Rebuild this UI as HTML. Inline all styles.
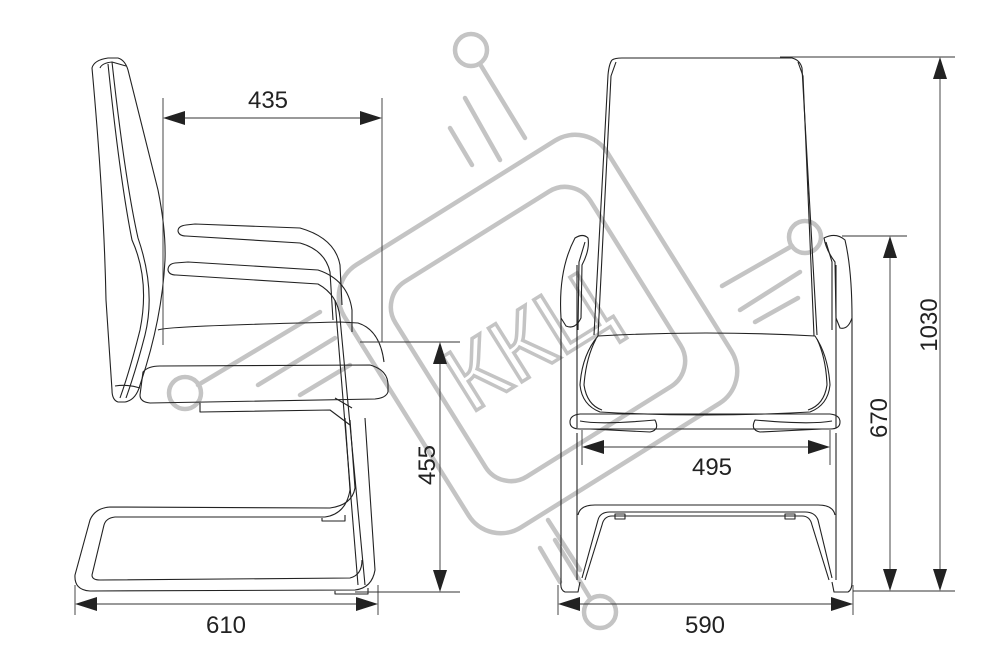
<!DOCTYPE html>
<html><head><meta charset="utf-8"><style>
html,body{margin:0;padding:0;background:#fff}
svg{display:block}
text{font-family:"Liberation Sans",Arial,sans-serif}
</style></head><body>
<svg width="1000" height="670" viewBox="0 0 1000 670" xmlns="http://www.w3.org/2000/svg">
<rect width="1000" height="670" fill="#fff"/>
<!-- watermark -->
<g fill="none" stroke="#c4c4c4" stroke-width="4.5" stroke-linecap="round">
  <rect x="383" y="179" width="310" height="310" rx="38" transform="rotate(-32 538 334)"/>
  <rect x="423" y="219" width="230" height="230" rx="30" transform="rotate(-32 538 334)"/>
  <circle cx="471" cy="50" r="16"/>
  <line x1="480" y1="64" x2="525" y2="138"/>
  <line x1="465" y1="98" x2="500" y2="160"/>
  <line x1="450" y1="128" x2="472" y2="165"/>
  <circle cx="185" cy="393" r="16"/>
  <line x1="198" y1="385" x2="320" y2="312"/>
  <line x1="258" y1="385" x2="335" y2="338"/>
  <line x1="300" y1="395" x2="350" y2="365"/>
  <circle cx="805" cy="237" r="16"/>
  <line x1="792" y1="246" x2="722" y2="286"/>
  <line x1="800" y1="272" x2="740" y2="310"/>
  <line x1="798" y1="298" x2="755" y2="322"/>
  <circle cx="600" cy="612" r="16"/>
  <line x1="590" y1="598" x2="555" y2="540"/>
  <line x1="580" y1="570" x2="548" y2="520"/>
  <line x1="560" y1="582" x2="540" y2="548"/>
</g>
<text x="530" y="372" font-size="92" fill="#fff" stroke="#c4c4c4" stroke-width="3.5" text-anchor="middle" transform="rotate(-32 530 345)" font-family="Liberation Sans, DejaVu Sans, sans-serif">ККЦ</text>

<g fill="none" stroke="#222" stroke-width="1.1" stroke-linejoin="round">
<!-- SIDE VIEW backrest -->
<path d="M92,68 Q94,60 108,58 L118,58 Q125,60 128,70 L158,190 Q166,230 165,260 Q162,320 140,385 Q136,400 125,402 L118,402 Q112,400 112,390 L106,300 Q104,200 92,68 Z"/>
<path d="M100,68 Q102,63 112,62 L126,66"/>
<path d="M108,64 Q120,180 132,240 Q150,280 140,330 Q130,370 120,398"/>
<path d="M112,62 Q125,180 138,238 Q156,290 145,335 Q136,370 126,398"/>
<path d="M115,386 Q128,384 140,388"/>
<!-- seat -->
<path d="M158,330 Q165,326 340,322 L358,323 Q380,330 384,362"/>
<path d="M143,372 Q148,366 160,366 L370,365 Q388,370 388,385 L388,392 Q386,398 375,399 L150,403 Q140,402 140,395 Z"/>
<path d="M200,403 L200,412 L330,410 L350,425"/>
<path d="M335,398 L352,408"/>
<!-- armrests -->
<path d="M186,225 Q178,226 178,231 Q179,236 186,236 L300,243 Q325,250 330,272 L333,320"/>
<path d="M186,225 L195,224 L300,228 Q335,238 340,265 L342,305"/>
<path d="M175,263 Q168,264 168,270 Q169,275 176,275 L318,284 Q338,295 340,318 L365,585"/>
<path d="M175,263 L188,262 L318,270 Q348,280 352,310 L352,332"/>
<path d="M335,300 L358,585"/>
<!-- base -->
<path d="M350,420 L355,488 Q352,505 330,508 L110,507 Q95,508 90,520 L75,575 Q74,590 90,591 L355,590 Q372,588 375,570 L365,418"/>
<path d="M345,418 L350,490 Q346,514 325,517 L115,517 Q106,518 104,525 L92,575 Q92,580 100,580 L350,578 Q362,575 362,560"/>
<path d="M322,518 L322,521 L345,521 L345,515"/>
<path d="M335,591 L335,594 L368,594 L368,588"/>

<!-- FRONT VIEW backrest -->
<path d="M612,60 Q615,58 622,58 L792,58 Q800,60 802,68 L817,335"/>
<path d="M612,60 Q609,64 608,75 L594,335"/>
<path d="M616,62 L611,76 L598,336"/>
<path d="M798,62 L803,76 L814,336"/>
<!-- seat -->
<path d="M598,336 Q705,330 815,336 Q828,355 830,385 Q828,405 810,412 Q705,418 600,412 Q582,405 580,385 Q582,355 598,336 Z"/>
<path d="M596,339 Q586,358 584,385 Q587,405 602,410"/>
<path d="M817,339 Q826,358 827,385 Q824,405 808,410"/>
<path d="M580,414 L830,414 Q840,415 840,422 Q840,429 830,429 L580,429 Q570,429 570,422 Q570,415 580,414"/>
<path d="M580,421 Q600,425 655,420 Q660,430 650,432 L590,429"/>
<path d="M832,421 Q810,425 755,420 Q750,430 760,432 L822,429"/>
<!-- armrests -->
<path d="M575,238 Q583,233 588,238 Q590,250 582,265 L581,318 Q575,330 566,326 L561,318 Q558,270 575,238 Z"/>
<path d="M585,242 L579,262 L578,330"/>
<path d="M824,238 Q836,232 845,240 Q852,270 852,318 Q848,330 840,328 L836,318 L835,262 Q826,250 824,238 Z"/>
<path d="M826,242 L832,262 L832,330"/>
<!-- legs -->
<path d="M577,265 L577,428 M577,433 L577,580"/>
<path d="M836,265 L836,428 M836,433 L836,580"/>
<path d="M561,318 L561,582 Q560,590 565,592 L578,592 L580,582"/>
<path d="M852,318 L852,582 Q852,590 848,592 L834,592 L832,582"/>
<path d="M578,515 Q580,505 595,505 L818,505 Q833,505 835,515"/>
<path d="M582,578 L598,520 Q600,512 610,512 L805,512 Q815,512 818,520 L832,578"/>
<path d="M585,580 L602,525 Q604,516 612,516 L802,516 Q810,516 812,525 L829,580"/>
<rect x="615" y="514" width="10" height="5"/>
<rect x="785" y="514" width="10" height="5"/>
</g>

<!-- dimension lines -->
<g stroke="#333" stroke-width="0.9" fill="none">
  <line x1="163" y1="98" x2="163" y2="345"/>
  <line x1="382" y1="98" x2="382" y2="342"/>
  <line x1="170" y1="118" x2="375" y2="118"/>
  <line x1="360" y1="342" x2="460" y2="342"/>
  <line x1="355" y1="592" x2="460" y2="592"/>
  <line x1="440" y1="350" x2="440" y2="585"/>
  <line x1="75" y1="585" x2="75" y2="615"/>
  <line x1="378" y1="585" x2="378" y2="615"/>
  <line x1="82" y1="604" x2="370" y2="604"/>
  <line x1="558" y1="585" x2="558" y2="615"/>
  <line x1="853" y1="585" x2="853" y2="615"/>
  <line x1="565" y1="604" x2="846" y2="604"/>
  <line x1="582" y1="430" x2="582" y2="465"/>
  <line x1="830" y1="430" x2="830" y2="465"/>
  <line x1="590" y1="447" x2="822" y2="447"/>
  <line x1="780" y1="57" x2="955" y2="57"/>
  <line x1="842" y1="236" x2="907" y2="236"/>
  <line x1="853" y1="591" x2="955" y2="591"/>
  <line x1="890" y1="244" x2="890" y2="584"/>
  <line x1="940" y1="64" x2="940" y2="584"/>
</g>
<g fill="#222">
  <polygon points="163,118 185,111 185,125"/>
  <polygon points="382,118 360,111 360,125"/>
  <polygon points="440,342 433,364 447,364"/>
  <polygon points="440,592 433,570 447,570"/>
  <polygon points="75,604 97,597 97,611"/>
  <polygon points="378,604 356,597 356,611"/>
  <polygon points="558,604 580,597 580,611"/>
  <polygon points="853,604 831,597 831,611"/>
  <polygon points="582,447 604,440 604,454"/>
  <polygon points="830,447 808,440 808,454"/>
  <polygon points="890,236 883,258 897,258"/>
  <polygon points="890,591 883,569 897,569"/>
  <polygon points="940,57 933,79 947,79"/>
  <polygon points="940,591 933,569 947,569"/>
</g>
<g font-size="24" fill="#222" text-anchor="middle">
  <text x="268" y="108">435</text>
  <text x="226" y="633">610</text>
  <text x="705" y="633">590</text>
  <text x="712" y="475">495</text>
  <text transform="translate(435,465) rotate(-90)">455</text>
  <text transform="translate(887,418) rotate(-90)">670</text>
  <text transform="translate(937,325) rotate(-90)">1030</text>
</g>
</svg>
</body></html>
